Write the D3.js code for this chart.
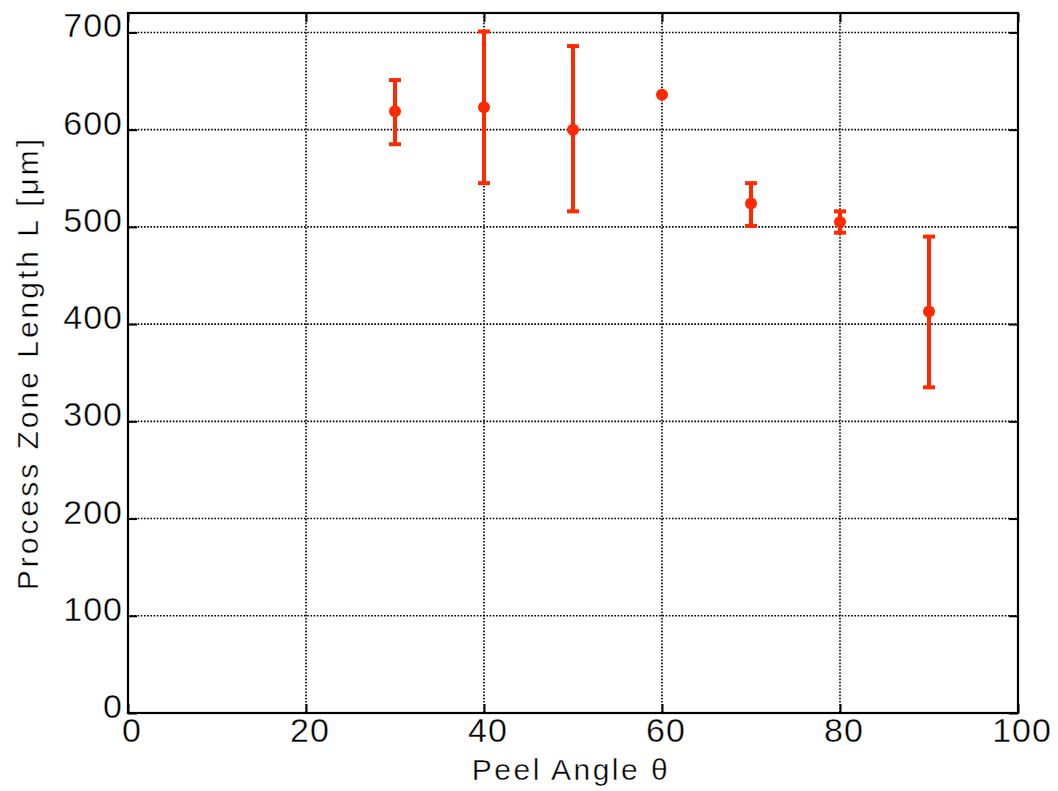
<!DOCTYPE html>
<html>
<head>
<meta charset="utf-8">
<script src="https://cdn.jsdelivr.net/npm/d3@7"></script>
<style>
  body { margin: 0; background: #fff; }
  svg text { font-family: "Liberation Sans", Arial, Helvetica, sans-serif; fill: #000;
             stroke: #fff; stroke-width: 0.4px; }
</style>
</head>
<body>
<div id="chart"></div>
<script>
// peel angle (deg)
const angles = [30, 40, 50, 60, 70, 80, 90];
// process zone length (um), mean and error bar ends
const lengths = [619, 623, 600, 636, 524, 505, 413];
const errLow  = [585, 545, 516, null, 501, 494, 335];
const errHigh = [651, 701, 686, null, 545, 516, 490];

const xTicks = [0, 20, 40, 60, 80, 100];
const yTicks = [0, 100, 200, 300, 400, 500, 600, 700];

const W = 1058, H = 791;
const margin = {top: 13, right: 40, bottom: 78, left: 128};
const width = W - margin.left - margin.right,
      height = H - margin.top - margin.bottom;
const red = "#ff2a00";

const svg = d3.select("#chart").append("svg")
    .attr("width", W)
    .attr("height", H);

const g = svg.append("g")
    .attr("transform", "translate(" + margin.left + "," + margin.top + ")");

const x = d3.scaleLinear().domain([0, 100]).range([0, width]);
const y = d3.scaleLinear().domain([0, 720]).range([height, 0]);

// grid lines
g.append("g")
    .selectAll("line")
    .data(xTicks.filter(d => d > 0 && d < 100))
    .join("line")
    .attr("x1", d => x(d)).attr("x2", d => x(d))
    .attr("y1", 0).attr("y2", height)
    .attr("stroke", "#000")
    .attr("stroke-width", 1.6)
    .attr("stroke-dasharray", "1.6,1.6");

g.append("g")
    .selectAll("line")
    .data(yTicks.filter(d => d > 0))
    .join("line")
    .attr("x1", 0).attr("x2", width)
    .attr("y1", d => y(d)).attr("y2", d => y(d))
    .attr("stroke", "#000")
    .attr("stroke-width", 1.6)
    .attr("stroke-dasharray", "1.6,1.6");

// inward ticks on all four sides
const tickLen = 9;
const xAxisB = d3.axisBottom(x).tickValues(xTicks).tickSizeInner(-tickLen).tickSizeOuter(0).tickFormat("");
const xAxisT = d3.axisTop(x).tickValues(xTicks).tickSizeInner(-tickLen).tickSizeOuter(0).tickFormat("");
const yAxisL = d3.axisLeft(y).tickValues(yTicks).tickSizeInner(-tickLen).tickSizeOuter(0).tickFormat("");
const yAxisR = d3.axisRight(y).tickValues(yTicks).tickSizeInner(-tickLen).tickSizeOuter(0).tickFormat("");

[
  [xAxisB, `translate(0,${height})`],
  [xAxisT, "translate(0,0)"],
  [yAxisL, "translate(0,0)"],
  [yAxisR, `translate(${width},0)`]
].forEach(([ax, tr]) => {
  const a = g.append("g").attr("transform", tr).call(ax);
  a.select(".domain").remove();
  a.selectAll(".tick line").attr("stroke", "#000").attr("stroke-width", 2);
});

// frame
g.append("rect")
    .attr("x", 0).attr("y", 0)
    .attr("width", width).attr("height", height)
    .attr("fill", "none")
    .attr("stroke", "#000")
    .attr("stroke-width", 2.2);

// tick labels
g.append("g")
    .selectAll("text")
    .data(xTicks)
    .join("text")
    .attr("x", d => x(d) + 4)
    .attr("y", height + 29)
    .attr("text-anchor", "middle")
    .style("font-size", "34px")
    .style("letter-spacing", "1px")
    .text(d => d);

g.append("g")
    .selectAll("text")
    .data(yTicks)
    .join("text")
    .attr("x", -5)
    .attr("y", d => y(d) + 5)
    .attr("text-anchor", "end")
    .style("font-size", "34px")
    .style("letter-spacing", "1px")
    .text(d => d);

// axis titles
svg.append("text")
    .attr("x", margin.left + x(50) - 2)
    .attr("y", 780)
    .attr("text-anchor", "middle")
    .style("font-size", "30px")
    .style("letter-spacing", "2.5px")
    .text("Peel Angle θ");

svg.append("text")
    .attr("transform", `translate(38,${margin.top + height / 2}) rotate(-90)`)
    .attr("text-anchor", "middle")
    .style("font-size", "30px")
    .style("letter-spacing", "3px")
    .text("Process Zone Length L [μm]");

// data
const data = angles.map((a, i) => ({a: a, v: lengths[i], lo: errLow[i], hi: errHigh[i]}));
const withErr = data.filter(d => d.lo !== null);

const eb = g.append("g").attr("stroke", red).attr("stroke-width", 4);
eb.selectAll(".stem")
    .data(withErr)
    .join("line")
    .attr("class", "stem")
    .attr("x1", d => x(d.a)).attr("x2", d => x(d.a))
    .attr("y1", d => y(d.lo)).attr("y2", d => y(d.hi));

eb.selectAll(".capHi")
    .data(withErr)
    .join("line")
    .attr("class", "capHi")
    .attr("x1", d => x(d.a) - 6).attr("x2", d => x(d.a) + 6)
    .attr("y1", d => y(d.hi)).attr("y2", d => y(d.hi));

eb.selectAll(".capLo")
    .data(withErr)
    .join("line")
    .attr("class", "capLo")
    .attr("x1", d => x(d.a) - 6).attr("x2", d => x(d.a) + 6)
    .attr("y1", d => y(d.lo)).attr("y2", d => y(d.lo));

g.append("g")
    .selectAll("circle")
    .data(data)
    .join("circle")
    .attr("cx", d => x(d.a))
    .attr("cy", d => y(d.v))
    .attr("r", 6)
    .attr("fill", red);
</script>
</body>
</html>
